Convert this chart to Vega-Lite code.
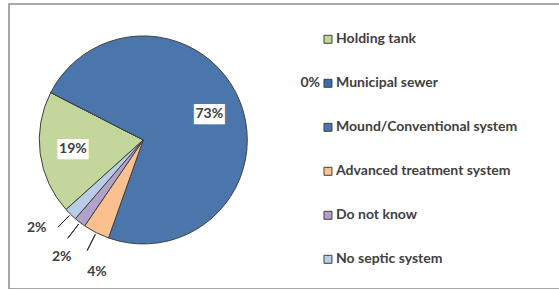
{
  "$schema": "https://vega.github.io/schema/vega-lite/v6.json",
  "autosize": "none",
  "padding": {"left": 9, "top": 4, "right": 0, "bottom": 0},
  "width": 560,
  "height": 285,
  "background": "white",
  "config": {
    "view": {"stroke": "#8c8c8c", "strokeWidth": 1.5, "fill": "white"},
    "text": {"font": "Lato", "fontWeight": "bold", "fontSize": 14, "color": "#404040"}
  },
  "data": {
    "values": [
      {"category": "Holding tank", "value": 0.192},
      {"category": "Municipal sewer", "value": 0.0},
      {"category": "Mound/Conventional system", "value": 0.729},
      {"category": "Advanced treatment system", "value": 0.041},
      {"category": "Do not know", "value": 0.018},
      {"category": "No septic system", "value": 0.02}
    ]
  },
  "transform": [
    {"window": [{"op": "row_number", "as": "rank"}]},
    {"stack": "value", "groupby": [], "sort": [{"field": "rank", "order": "ascending"}], "as": ["t0", "t1"]}
  ],
  "resolve": {"scale": {"y": "independent"}},
  "layer": [
    {
      "encoding": {
        "x": {"datum": 0.2398, "type": "quantitative", "scale": {"domain": [0, 1], "nice": false, "zero": false}, "axis": null},
        "y": {"datum": 0.523, "type": "quantitative", "scale": {"domain": [0, 1], "nice": false, "zero": false}, "axis": null},
        "theta": {"field": "t0", "type": "quantitative", "stack": null, "scale": {"domain": [0, 1], "range": [3.979, 10.262]}}
      },
      "layer": [
        {
          "mark": {"type": "arc", "outerRadius": 104, "stroke": "#404040", "strokeWidth": 1},
          "encoding": {
            "theta2": {"field": "t1"},
            "color": {
              "field": "category", "type": "nominal", "legend": null,
              "scale": {
                "domain": ["Holding tank", "Municipal sewer", "Mound/Conventional system", "Advanced treatment system", "Do not know", "No septic system"],
                "range": ["#c3d69b", "#3f6ca6", "#4a76ac", "#fac090", "#b3a2c7", "#b9cde5"]
              }
            }
          }
        },
        {
          "transform": [{"filter": "datum.category == 'Holding tank'"}],
          "layer": [
            {
              "mark": {"type": "text", "radius": 71, "thetaOffset": 0.603, "font": "DejaVu Sans Mono", "fontSize": 17, "fontWeight": "normal", "color": "white", "baseline": "middle", "align": "center", "dy": 1},
              "encoding": {"text": {"value": "███"}}
            },
            {
              "mark": {"type": "text", "radius": 71, "thetaOffset": 0.603, "baseline": "middle", "align": "center"},
              "encoding": {"text": {"field": "value", "type": "quantitative", "format": ".0%"}}
            }
          ]
        },
        {
          "transform": [{"filter": "datum.category == 'Mound/Conventional system'"}],
          "layer": [
            {
              "mark": {"type": "text", "radius": 71, "thetaOffset": 2.29, "font": "DejaVu Sans Mono", "fontSize": 17, "fontWeight": "normal", "color": "white", "baseline": "middle", "align": "center", "dy": 1},
              "encoding": {"text": {"value": "███"}}
            },
            {
              "mark": {"type": "text", "radius": 71, "thetaOffset": 2.29, "baseline": "middle", "align": "center"},
              "encoding": {"text": {"field": "value", "type": "quantitative", "format": ".0%"}}
            }
          ]
        },
        {
          "transform": [{"filter": "datum.category == 'No septic system'"}],
          "layer": [
            {
              "mark": {"type": "arc", "innerRadius": 106, "outerRadius": 122, "thetaOffset": 0.0628, "theta2Offset": -0.0628, "fill": "transparent", "stroke": "#262626", "strokeWidth": 1},
              "encoding": {"theta2": {"field": "t1"}}
            },
            {
              "mark": {"type": "text", "radius": 138, "thetaOffset": 0.0628, "baseline": "middle", "align": "center", "dx": -10, "dy": -11},
              "encoding": {"text": {"field": "value", "type": "quantitative", "format": ".0%"}}
            }
          ]
        },
        {
          "transform": [{"filter": "datum.category == 'Do not know'"}],
          "layer": [
            {
              "mark": {"type": "arc", "innerRadius": 106, "outerRadius": 124, "thetaOffset": 0.0565, "theta2Offset": -0.0565, "fill": "transparent", "stroke": "#262626", "strokeWidth": 1},
              "encoding": {"theta2": {"field": "t1"}}
            },
            {
              "mark": {"type": "text", "radius": 142, "thetaOffset": 0.0565, "baseline": "middle", "align": "center", "dx": 5, "dy": 4},
              "encoding": {"text": {"field": "value", "type": "quantitative", "format": ".0%"}}
            }
          ]
        },
        {
          "transform": [{"filter": "datum.category == 'Advanced treatment system'"}],
          "layer": [
            {
              "mark": {"type": "arc", "innerRadius": 106, "outerRadius": 124, "thetaOffset": 0.1288, "theta2Offset": -0.1288, "fill": "transparent", "stroke": "#262626", "strokeWidth": 1},
              "encoding": {"theta2": {"field": "t1"}}
            },
            {
              "mark": {"type": "text", "radius": 140, "thetaOffset": 0.1288, "baseline": "middle", "align": "center", "dx": 17, "dy": 7},
              "encoding": {"text": {"field": "value", "type": "quantitative", "format": ".0%"}}
            }
          ]
        }
      ]
    },
    {
      "encoding": {
        "y": {"field": "category", "type": "nominal", "axis": null, "scale": {"type": "point", "padding": 0, "domain": ["Holding tank", "Municipal sewer", "Mound/Conventional system", "Advanced treatment system", "Do not know", "No septic system"], "range": [35.3, 255.3]}}
      },
      "layer": [
        {
          "mark": {"type": "point", "shape": "square", "size": 64, "filled": true, "opacity": 1, "stroke": "#404040", "strokeWidth": 1},
          "encoding": {
            "x": {"datum": 0.5696, "type": "quantitative"},
            "color": {"field": "category", "type": "nominal", "legend": null}
          }
        },
        {
          "mark": {"type": "text", "align": "left", "baseline": "middle"},
          "encoding": {
            "x": {"datum": 0.584, "type": "quantitative"},
            "text": {"field": "category", "type": "nominal"}
          }
        },
        {
          "transform": [{"filter": "datum.category == 'Municipal sewer'"}],
          "mark": {"type": "text", "align": "right", "baseline": "middle"},
          "encoding": {
            "x": {"datum": 0.5554, "type": "quantitative"},
            "text": {"field": "value", "type": "quantitative", "format": ".0%"}
          }
        }
      ]
    }
  ]
}
